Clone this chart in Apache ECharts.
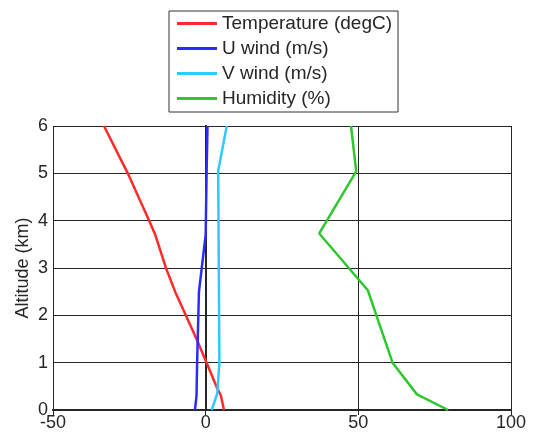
<!DOCTYPE html>
<html lang="en">
<head>
  <meta charset="UTF-8">
  <title>profile</title>
  <script src="https://cdn.jsdelivr.net/npm/echarts@6/dist/echarts.min.js"></script>
  <style>
    html, body { margin: 0; padding: 0; background: #fff; }
    #chart { width: 536px; height: 434px; }
  </style>
</head>
<body>
  <div id="chart"></div>
  <script>
    // altitude levels (km) per series
    var tempAlt = [0, 0.3, 0.5, 1, 1.5, 2, 2.5, 3, 3.7, 4, 5, 6]
    var tempVal = [6, 5, 3.5, 0.3, -3, -6.5, -10, -13, -16.5, -18.5, -25.5, -33.3]

    var uAlt = [0, 0.3, 1, 2.5, 3.7, 5, 6]
    var uVal = [-3.5, -3, -2.8, -2.2, 0, 0.3, 0.6]

    var vAlt = [0, 0.35, 1, 3, 5.05, 6]
    var vVal = [2, 3.8, 4.5, 4.3, 4.1, 6.9]

    var humAlt = [0, 0.33, 1, 2.53, 3.73, 5.04, 6]
    var humVal = [79.4, 69.2, 61.2, 53.1, 37.2, 49.3, 47.6]

    var names = ['Temperature (degC)', 'U wind (m/s)', 'V wind (m/s)', 'Humidity (%)']
    var colors = ['#ff2b2b', '#2b2bff', '#2fc8ff', '#2ec82e']

    function pairs(vals, alts) {
      return vals.map(function (v, i) { return [v, alts[i]] })
    }

    var chart = echarts.init(document.getElementById('chart'))
    var font = 'Arial, "Liberation Sans", sans-serif'
    var txt = '#262626'

    var option = {
      animation: false,
      color: colors,
      grid: { left: 53, right: 25, top: 126, bottom: 24 },
      legend: {
        orient: 'vertical',
        left: 169,
        top: 11,
        padding: [3, 6, 4, 8],
        itemGap: 6,
        itemWidth: 40,
        itemHeight: 3,
        icon: 'rect',
        borderColor: '#333',
        borderWidth: 1,
        backgroundColor: '#fff',
        textStyle: { fontFamily: font, fontSize: 19, color: txt },
        data: names
      },
      xAxis: [{
        type: 'value', min: -50, max: 100, interval: 50,
        axisLine: { lineStyle: { color: '#262626', width: 2 } },
        axisTick: { inside: true, length: 5, lineStyle: { color: '#262626' } },
        axisLabel: { fontFamily: font, fontSize: 18, color: txt, margin: 4 },
        splitLine: { lineStyle: { color: '#262626', width: 1 } }
      }, {
        type: 'value', min: -50, max: 100, interval: 50, position: 'top',
        axisLine: { show: true, lineStyle: { color: '#262626', width: 2 } },
        axisTick: { show: true, inside: true, length: 5, lineStyle: { color: '#262626' } },
        axisLabel: { show: false },
        splitLine: { show: false }
      }],
      yAxis: [{
        type: 'value', min: 0, max: 6, interval: 1,
        name: 'Altitude (km)', nameLocation: 'middle', nameGap: 21,
        nameMoveOverlap: false,
        nameTextStyle: { fontFamily: font, fontSize: 18, color: txt },
        axisLine: { show: true, lineStyle: { color: '#262626', width: 2 } },
        axisTick: { show: true, inside: true, length: 5, lineStyle: { color: '#262626' } },
        axisLabel: { fontFamily: font, fontSize: 18, color: txt, margin: 5 },
        splitLine: { lineStyle: { color: '#262626', width: 1 } }
      }, {
        type: 'value', min: 0, max: 6, interval: 1, position: 'right',
        axisLine: { show: true, lineStyle: { color: '#262626', width: 2 } },
        axisTick: { show: true, inside: true, length: 5, lineStyle: { color: '#262626' } },
        axisLabel: { show: false },
        splitLine: { show: false }
      }],
      series: [
        { name: names[0], type: 'line', data: pairs(tempVal, tempAlt) },
        { name: names[1], type: 'line', data: pairs(uVal, uAlt) },
        { name: names[2], type: 'line', data: pairs(vVal, vAlt) },
        { name: names[3], type: 'line', data: pairs(humVal, humAlt) }
      ].map(function (s) {
        s.symbol = 'none'
        s.lineStyle = { width: 2.5 }
        s.z = 3
        return s
      })
    }

    chart.setOption(option)
  </script>
</body>
</html>
